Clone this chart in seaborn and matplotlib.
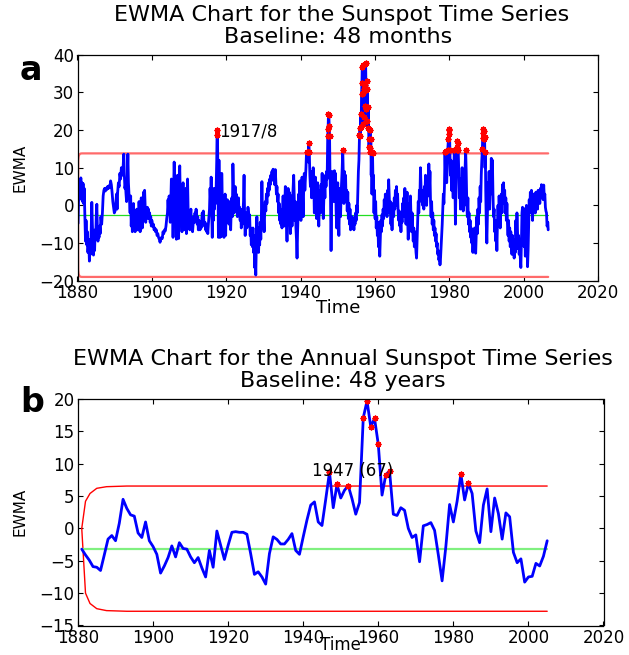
import numpy as np
import pandas as pd
import matplotlib
matplotlib.use("Agg")
import matplotlib.pyplot as plt
import seaborn as sns

# ---------------- data: monthly EWMA (panel a) ----------------
monthly_points = [
(1880.15,-4.8),(1880.3,2.5),(1880.4,6.5),(1880.5,1.5),(1880.6,6.8),(1880.75,4.0),(1880.9,7.3),(1881.05,3.5),
(1881.2,6.0),(1881.35,1.0),(1881.5,5.8),(1881.65,0.5),(1881.8,4.5),(1882.0,-3.5),(1882.15,-9.5),(1882.3,-4.0),
(1882.5,-10.5),(1882.65,-7.0),(1882.8,-12.5),(1883.0,-9.0),(1883.2,-14.8),(1883.35,-11.0),(1883.5,-13.0),
(1883.7,-6.0),(1883.85,0.8),(1884.0,-5.0),(1884.15,-9.5),(1884.3,-13.2),(1884.45,-9.0),(1884.6,-12.0),
(1884.75,-6.5),(1884.9,-8.5),(1885.05,-2.5),(1885.2,0.3),(1885.35,-6.0),(1885.5,-9.5),(1885.65,-7.5),
(1885.8,-8.5),(1885.95,-5.5),(1886.1,-7.5),(1886.3,-3.0),(1886.5,-5.0),(1886.7,-2.0),(1886.9,2.5),(1887.1,4.0),
(1887.3,4.5),(1887.5,3.8),(1887.7,4.6),(1887.9,4.2),(1888.1,5.0),(1888.3,4.5),(1888.5,5.2),(1888.7,4.7),
(1888.9,6.5),(1889.1,5.5),(1889.3,3.5),(1889.5,1.0),(1889.7,-0.5),(1889.9,-2.0),(1890.1,-1.5),(1890.3,0.5),
(1890.5,3.0),(1890.65,-1.0),(1890.8,3.5),(1891.0,6.0),(1891.2,5.0),(1891.4,8.5),(1891.6,7.0),(1891.8,10.0),
(1892.0,8.0),(1892.2,9.0),(1892.45,13.6),(1892.6,8.0),(1892.75,4.5),(1892.9,5.5),(1893.05,3.0),(1893.2,1.0),
(1893.35,6.0),(1893.55,13.6),(1893.7,6.0),(1893.85,3.0),(1894.0,1.0),(1894.15,-2.0),(1894.3,2.5),(1894.45,-5.5),
(1894.6,-1.0),(1894.75,-7.0),(1894.9,-3.0),(1895.05,0.5),(1895.2,-6.0),(1895.35,-2.5),(1895.5,-7.0),
(1895.65,-2.0),(1895.8,-4.5),(1895.95,-1.0),(1896.1,-6.5),(1896.25,-2.5),(1896.4,-6.5),(1896.55,1.0),
(1896.7,-4.0),(1896.85,-7.0),(1897.0,-3.0),(1897.15,2.0),(1897.3,-3.5),(1897.45,-6.0),(1897.6,-1.0),
(1897.75,3.5),(1897.9,-1.5),(1898.05,4.0),(1898.2,-0.5),(1898.35,-4.5),(1898.5,-1.0),(1898.65,-3.5),
(1898.8,-0.5),(1898.95,-2.5),(1899.1,-1.0),(1899.25,-3.5),(1899.4,-2.0),(1899.55,-4.5),(1899.7,-3.0),
(1899.85,-5.5),(1900.0,-4.0),(1900.2,-5.5),(1900.4,-5.0),(1900.6,-6.5),(1900.8,-6.0),(1901.0,-7.0),
(1901.2,-6.5),(1901.4,-8.0),(1901.6,-7.5),(1901.8,-8.5),(1902.0,-9.0),(1902.2,-9.8),(1902.4,-9.0),
(1902.6,-8.5),(1902.8,-8.8),(1903.0,-7.0),(1903.2,-7.5),(1903.4,-6.5),(1903.6,-6.8),(1903.8,-5.5),
(1904.0,-3.5),(1904.2,-2.0),(1904.35,1.5),(1904.5,-1.5),(1904.65,2.5),(1904.8,0.0),(1904.95,-4.5),
(1905.1,1.0),(1905.25,7.0),(1905.4,-2.0),(1905.55,6.5),(1905.7,-8.5),(1905.85,4.0),(1906.0,11.5),
(1906.15,5.0),(1906.3,-1.0),(1906.45,7.5),(1906.6,-9.0),(1906.75,0.5),(1906.9,8.0),(1907.05,-3.0),
(1907.2,-8.8),(1907.35,5.0),(1907.5,10.5),(1907.65,2.0),(1907.8,-4.0),(1907.95,1.0),(1908.1,-7.0),
(1908.25,3.0),(1908.4,6.0),(1908.55,-2.0),(1908.7,-6.5),(1908.85,0.5),(1909.0,-3.0),(1909.15,4.5),
(1909.3,-7.5),(1909.45,2.0),(1909.6,7.0),(1909.75,-1.0),(1909.9,-5.0),(1910.05,-2.0),(1910.2,-6.5),
(1910.35,-3.0),(1910.5,-1.0),(1910.65,-5.5),(1910.8,-4.0),(1910.95,-7.0),(1911.1,-5.0),(1911.3,-3.0),
(1911.45,-4.5),(1911.6,-2.0),(1911.75,-4.0),(1911.9,-1.0),(1912.05,-3.5),(1912.2,-5.0),(1912.35,-3.0),
(1912.5,-6.5),(1912.65,-4.0),(1912.8,-5.5),(1912.95,-6.5),(1913.1,-4.5),(1913.25,-6.0),(1913.4,-4.0),
(1913.55,-2.0),(1913.7,-3.5),(1913.85,-1.5),(1914.0,-4.0),(1914.15,-5.5),(1914.3,-4.5),(1914.45,-6.5),
(1914.6,-5.0),(1914.75,-7.0),(1914.9,-6.0),(1915.05,-7.5),(1915.2,-5.0),(1915.35,-3.0),(1915.5,-1.0),
(1915.65,4.5),(1915.8,1.0),(1915.95,7.5),(1916.1,-2.0),(1916.25,-8.5),(1916.4,2.0),(1916.55,-4.0),
(1916.7,4.5),(1916.85,-1.0),(1917.0,3.5),(1917.15,0.5),(1917.3,5.0),(1917.45,12.0),(1917.55,20.0),
(1917.65,18.7),(1917.75,10.0),(1917.9,-8.5),(1918.05,12.0),(1918.2,-1.0),(1918.35,-8.5),(1918.5,3.5),
(1918.65,-8.3),(1918.8,8.5),(1918.95,1.0),(1919.1,-5.5),(1919.25,2.0),(1919.4,-8.5),(1919.55,-1.5),
(1919.7,3.0),(1919.85,-8.0),(1920.0,0.5),(1920.15,-4.0),(1920.3,1.5),(1920.45,-3.5),(1920.6,-1.0),
(1920.75,-5.0),(1920.9,1.0),(1921.05,-4.0),(1921.2,-6.5),(1921.35,-1.0),(1921.5,2.0),(1921.65,-3.0),
(1921.8,11.0),(1921.95,4.0),(1922.1,-2.0),(1922.25,1.5),(1922.4,5.0),(1922.55,-0.5),(1922.7,3.0),
(1922.85,0.0),(1923.0,-3.0),(1923.15,-0.5),(1923.3,2.0),(1923.45,-2.5),(1923.6,-0.5),(1923.75,-4.0),
(1923.9,-1.0),(1924.05,-6.0),(1924.2,-3.0),(1924.35,-5.0),(1924.5,-2.0),(1924.65,1.0),(1924.8,8.0),
(1924.95,-3.0),(1925.1,-8.0),(1925.25,-4.5),(1925.4,-2.0),(1925.55,-6.0),(1925.7,-4.5),(1925.85,-0.5),
(1926.0,-2.0),(1926.15,-5.0),(1926.3,-2.5),(1926.45,-8.0),(1926.6,-6.0),(1926.75,-10.5),(1926.9,-7.0),
(1927.05,-11.0),(1927.2,-6.0),(1927.35,-12.5),(1927.5,-8.0),(1927.65,-16.5),(1927.8,-12.0),(1927.95,-18.5),
(1928.1,-10.5),(1928.25,-3.0),(1928.4,-12.0),(1928.55,-6.0),(1928.7,-12.5),(1928.85,-8.0),(1929.0,-10.5),
(1929.15,-4.5),(1929.3,-9.0),(1929.45,-3.0),(1929.6,6.3),(1929.75,-2.0),(1929.9,-6.0),(1930.05,-3.5),
(1930.2,-7.0),(1930.35,-2.0),(1930.5,1.0),(1930.65,-1.5),(1930.8,3.0),(1930.95,0.5),(1931.1,4.5),
(1931.25,2.5),(1931.4,6.0),(1931.55,4.0),(1931.7,7.0),(1931.85,5.5),(1932.0,8.0),(1932.15,6.5),
(1932.3,9.0),(1932.45,7.5),(1932.6,9.6),(1932.75,7.0),(1932.9,8.0),(1933.05,5.5),(1933.2,9.5),(1933.35,6.0),
(1933.5,3.0),(1933.65,5.0),(1933.8,1.0),(1933.95,3.0),(1934.1,-2.0),(1934.25,0.5),(1934.4,-4.0),
(1934.55,-1.0),(1934.7,-5.0),(1934.85,-2.5),(1935.0,-6.0),(1935.15,-1.0),(1935.3,2.5),(1935.45,-2.0),
(1935.6,-5.5),(1935.75,0.0),(1935.9,5.0),(1936.05,1.0),(1936.2,-4.0),(1936.35,-9.5),(1936.5,-3.0),
(1936.65,4.5),(1936.8,-1.0),(1936.95,3.5),(1937.1,-3.0),(1937.25,-7.5),(1937.4,-2.0),(1937.55,2.5),
(1937.7,-5.5),(1937.85,1.5),(1938.0,5.0),(1938.15,8.0),(1938.3,2.0),(1938.45,-4.0),(1938.6,1.0),
(1938.75,-6.0),(1938.9,-9.0),(1939.05,-14.0),(1939.2,-7.0),(1939.35,-2.0),(1939.5,3.0),(1939.65,-3.5),
(1939.8,6.5),(1939.95,0.5),(1940.1,-4.0),(1940.25,3.5),(1940.4,7.5),(1940.55,2.0),(1940.7,-3.0),
(1940.85,5.0),(1941.0,8.5),(1941.15,4.0),(1941.3,7.0),(1941.45,10.0),(1941.6,14.3),(1941.75,12.0),
(1941.9,14.2),(1942.05,11.5),(1942.2,16.5),(1942.35,14.3),(1942.5,8.0),(1942.65,5.0),(1942.8,9.0),
(1942.95,2.0),(1943.1,7.0),(1943.25,4.0),(1943.4,10.0),(1943.55,6.0),(1943.7,-2.0),(1943.85,3.0),
(1944.0,7.5),(1944.15,1.0),(1944.3,-3.5),(1944.45,2.0),(1944.6,6.0),(1944.75,-1.5),(1944.9,-5.5),
(1945.05,0.0),(1945.2,4.0),(1945.35,-2.0),(1945.5,5.5),(1945.65,2.0),(1945.8,8.5),(1945.95,3.0),
(1946.1,-3.5),(1946.25,1.0),(1946.4,6.0),(1946.55,2.0),(1946.7,8.0),(1946.85,5.0),(1947.0,9.0),
(1947.15,7.0),(1947.3,18.5),(1947.4,20.3),(1947.5,24.2),(1947.6,24.0),(1947.7,21.2),(1947.8,18.5),
(1947.9,9.0),(1948.05,2.0),(1948.2,-12.0),(1948.35,0.0),(1948.5,9.0),(1948.65,3.0),(1948.8,8.5),
(1948.95,1.0),(1949.1,9.2),(1949.25,5.0),(1949.4,8.5),(1949.55,-1.0),(1949.7,-6.0),(1949.85,1.0),
(1950.0,6.0),(1950.15,-2.0),(1950.3,-8.0),(1950.45,0.0),(1950.6,4.5),(1950.75,-3.0),(1950.9,3.0),
(1951.05,6.5),(1951.2,10.0),(1951.35,14.8),(1951.5,8.0),(1951.65,0.5),(1951.8,9.0),(1951.95,3.0),
(1952.1,8.0),(1952.25,1.0),(1952.4,4.0),(1952.55,-1.5),(1952.7,3.5),(1952.85,-3.5),(1953.0,0.5),
(1953.15,-5.0),(1953.3,-1.0),(1953.45,-6.5),(1953.6,-4.0),(1953.75,-5.5),(1953.9,-3.0),(1954.05,-6.0),
(1954.2,-4.5),(1954.35,-6.5),(1954.5,-3.5),(1954.65,-5.0),(1954.8,-2.0),(1954.95,-4.0),(1955.1,0.0),
(1955.25,-2.0),(1955.4,3.5),(1955.55,9.0),(1955.7,12.0),(1955.85,18.7),(1956.0,20.5),(1956.1,18.5),
(1956.2,24.3),(1956.3,20.8),(1956.4,29.6),(1956.5,32.4),(1956.6,36.8),(1956.7,29.8),(1956.8,21.5),
(1956.9,37.2),(1957.0,31.0),(1957.1,23.5),(1957.2,37.5),(1957.3,32.0),(1957.4,26.5),(1957.5,37.8),
(1957.6,30.5),(1957.7,25.5),(1957.8,33.0),(1957.9,22.5),(1958.0,31.0),(1958.1,20.5),(1958.2,26.0),
(1958.3,20.3),(1958.4,15.5),(1958.5,17.5),(1958.6,15.2),(1958.7,20.0),(1958.8,14.2),(1958.9,17.5),
(1959.0,8.0),(1959.1,14.2),(1959.2,3.0),(1959.35,14.0),(1959.5,5.0),(1959.6,8.0),(1959.75,-2.0),
(1959.9,4.0),(1960.05,-3.5),(1960.2,1.0),(1960.35,-6.0),(1960.5,-3.0),(1960.65,-8.0),(1960.8,-4.5),
(1960.95,-11.0),(1961.1,-7.0),(1961.3,-13.5),(1961.45,-9.0),(1961.6,-4.0),(1961.75,-7.0),(1961.9,-2.5),
(1962.05,-5.5),(1962.2,-1.0),(1962.35,-3.5),(1962.5,1.5),(1962.65,-2.0),(1962.8,3.0),(1962.95,-1.0),
(1963.1,2.0),(1963.25,-3.0),(1963.4,4.0),(1963.55,0.5),(1963.7,6.8),(1963.85,2.0),(1964.0,-2.0),
(1964.15,1.0),(1964.3,-5.0),(1964.45,-1.5),(1964.6,-6.5),(1964.75,-2.0),(1964.9,0.5),(1965.05,-3.0),
(1965.2,2.0),(1965.35,-1.0),(1965.5,4.0),(1965.65,0.0),(1965.8,5.0),(1965.95,1.5),(1966.1,3.0),
(1966.25,-2.0),(1966.4,-4.0),(1966.55,-1.5),(1966.7,-5.5),(1966.85,-3.0),(1967.0,-7.0),(1967.15,-2.0),
(1967.3,-4.5),(1967.45,0.5),(1967.6,-3.0),(1967.75,2.0),(1967.9,-2.0),(1968.05,4.5),(1968.2,0.0),
(1968.35,-5.0),(1968.5,-1.0),(1968.65,3.5),(1968.8,-3.5),(1968.95,-9.0),(1969.1,-4.0),(1969.25,0.5),
(1969.4,-6.0),(1969.55,2.5),(1969.7,-3.0),(1969.85,-7.0),(1970.0,-2.0),(1970.15,-6.0),(1970.3,-9.5),
(1970.45,-6.0),(1970.6,-11.0),(1970.75,-7.0),(1970.9,-10.0),(1971.05,-12.5),(1971.2,-14.0),(1971.35,-9.0),
(1971.5,-4.0),(1971.65,1.0),(1971.8,-2.0),(1971.95,4.0),(1972.1,2.0),(1972.25,10.0),(1972.4,5.0),
(1972.55,1.0),(1972.7,4.0),(1972.85,0.0),(1973.0,3.5),(1973.15,-1.0),(1973.3,5.0),(1973.45,2.0),
(1973.6,8.0),(1973.75,3.0),(1973.9,0.0),(1974.05,5.0),(1974.2,7.0),(1974.35,2.5),(1974.5,11.0),
(1974.65,4.0),(1974.8,9.0),(1974.95,1.0),(1975.1,-3.0),(1975.25,1.0),(1975.4,-5.0),(1975.55,-2.0),
(1975.7,-6.5),(1975.85,-4.0),(1976.0,-8.0),(1976.15,-6.0),(1976.3,-9.5),(1976.45,-7.5),(1976.6,-11.0),
(1976.75,-10.0),(1976.9,-13.0),(1977.05,-12.0),(1977.2,-14.5),(1977.35,-13.5),(1977.5,-15.8),
(1977.65,-14.0),(1977.8,-11.0),(1977.95,-8.0),(1978.1,-5.0),(1978.25,-1.0),(1978.4,3.0),(1978.55,0.5),
(1978.7,5.0),(1978.85,14.3),(1979.0,8.0),(1979.15,14.5),(1979.3,6.0),(1979.45,10.0),(1979.6,14.8),
(1979.75,17.5),(1979.85,20.0),(1979.95,19.0),(1980.05,20.2),(1980.15,14.8),(1980.3,8.0),(1980.45,12.0),
(1980.6,4.0),(1980.75,10.5),(1980.9,6.0),(1981.05,2.0),(1981.2,9.0),(1981.35,14.6),(1981.5,7.0),
(1981.65,-5.0),(1981.8,5.0),(1981.95,14.6),(1982.1,15.5),(1982.2,17.0),(1982.3,16.5),(1982.4,14.8),
(1982.55,9.0),(1982.7,2.0),(1982.85,6.0),(1983.0,-1.0),(1983.15,7.0),(1983.3,3.0),(1983.45,10.0),
(1983.6,2.5),(1983.75,-1.5),(1983.9,5.0),(1984.05,0.0),(1984.2,8.0),(1984.4,14.8),(1984.55,9.0),
(1984.7,1.0),(1984.85,-3.0),(1985.0,2.0),(1985.15,-5.0),(1985.3,-2.0),(1985.45,-7.0),(1985.6,-4.0),
(1985.75,-8.5),(1985.9,-6.0),(1986.05,-10.0),(1986.2,-8.0),(1986.35,-12.5),(1986.5,-9.0),(1986.65,-11.0),
(1986.8,-6.0),(1986.95,-10.5),(1987.1,-12.7),(1987.25,-8.0),(1987.4,-3.0),(1987.55,-7.5),(1987.7,-1.0),
(1987.85,-5.0),(1988.0,2.0),(1988.15,-2.0),(1988.3,5.0),(1988.45,1.0),(1988.6,8.0),(1988.75,12.0),
(1988.9,15.0),(1989.0,19.2),(1989.1,20.2),(1989.2,18.0),(1989.3,19.8),(1989.4,17.5),(1989.5,18.2),
(1989.6,10.0),(1989.7,14.2),(1989.8,4.0),(1989.95,-5.0),(1990.1,-10.0),(1990.25,-3.0),(1990.4,6.0),
(1990.55,1.0),(1990.7,9.0),(1990.85,-1.0),(1991.0,5.0),(1991.15,3.0),(1991.3,12.5),(1991.45,6.0),
(1991.6,12.0),(1991.75,3.0),(1991.9,-3.0),(1992.05,-1.0),(1992.2,-7.0),(1992.35,-4.0),(1992.5,-9.5),
(1992.65,-6.0),(1992.8,-12.0),(1992.95,-5.0),(1993.1,0.0),(1993.25,-4.0),(1993.4,2.5),(1993.55,-2.0),
(1993.7,-6.0),(1993.85,-1.0),(1994.0,3.0),(1994.15,-2.0),(1994.3,5.5),(1994.45,1.0),(1994.6,6.0),
(1994.75,0.5),(1994.9,4.0),(1995.05,-2.0),(1995.2,2.0),(1995.35,-4.0),(1995.5,0.5),(1995.65,-5.0),
(1995.8,-8.0),(1995.95,-4.0),(1996.1,-9.5),(1996.25,-6.0),(1996.4,-11.0),(1996.55,-7.0),(1996.7,-10.0),
(1996.85,-13.0),(1997.0,-8.0),(1997.15,-12.0),(1997.3,-9.0),(1997.45,-14.0),(1997.6,-10.0),
(1997.75,-12.5),(1997.9,-4.0),(1998.05,-9.0),(1998.2,-2.0),(1998.35,-7.0),(1998.5,-11.5),(1998.65,-8.0),
(1998.8,-13.0),(1998.95,-10.0),(1999.1,-14.0),(1999.25,-16.5),(1999.4,-10.0),(1999.55,-2.0),
(1999.7,-0.5),(1999.85,-4.0),(2000.0,-0.8),(2000.15,-11.0),(2000.3,-6.0),(2000.45,-13.5),(2000.6,-3.0),
(2000.75,0.0),(2000.9,-8.0),(2001.05,-16.3),(2001.2,-12.0),(2001.35,-5.0),(2001.5,1.5),(2001.65,-2.0),
(2001.8,3.5),(2001.95,-1.0),(2002.1,4.0),(2002.25,2.0),(2002.4,-4.0),(2002.55,1.0),(2002.7,3.0),
(2002.85,-1.5),(2003.0,2.0),(2003.15,-2.0),(2003.3,3.5),(2003.45,0.0),(2003.6,2.5),(2003.75,-1.0),
(2003.9,4.0),(2004.05,1.0),(2004.2,3.0),(2004.35,0.5),(2004.5,4.5),(2004.65,2.0),(2004.8,5.5),
(2004.95,3.0),(2005.1,5.0),(2005.25,1.5),(2005.4,5.4),(2005.55,2.0),(2005.7,3.0),(2005.85,-0.5),
(2006.0,-1.5),(2006.15,-2.0),(2006.3,-5.5),(2006.5,-4.5),(2006.6,-6.5),
]
month_time = [p[0] for p in monthly_points]
month_ewma = [p[1] for p in monthly_points]

# control limits, monthly chart
month_center = -2.6
month_limit_time = [1880.15, 1880.2, 1880.3, 1880.5, 1880.8, 1881.2, 2006.6]
month_ucl = [-2.6, 12.0, 13.0, 13.5, 13.75, 13.8, 13.8]
month_lcl = [-2.6, -17.2, -18.2, -18.7, -18.95, -19.0, -19.0]

# ---------------- data: annual EWMA (panel b) ----------------
annual_year = list(range(1881, 2006))
annual_ewma = [
    -3.2, -4.1, -4.9, -5.9, -6.0, -6.5, -4.1, -1.65, -1.1, -1.9,   # 1881-1890
    0.8, 4.5, 3.1, 2.1, 1.9, -0.7, -1.4, 1.0, -1.9, -2.8,          # 1891-1900
    -4.0, -6.9, -5.8, -4.5, -2.7, -4.4, -2.2, -3.1, -3.2, -4.4,    # 1901-1910
    -5.3, -4.5, -6.1, -7.5, -3.4, -6.0, -0.4, -2.6, -4.8, -2.6,    # 1911-1920
    -0.6, -0.5, -0.6, -0.6, -0.9, -3.9, -7.1, -6.7, -7.5, -8.6,    # 1921-1930
    -3.9, -1.3, -1.7, -2.4, -2.4, -1.7, -0.8, -3.4, -4.0, -1.3,    # 1931-1940
    1.3, 3.6, 4.1, 1.0, 0.45, 4.5, 8.7, 3.2, 6.8, 4.7,             # 1941-1950
    5.9, 6.6, 4.6, 2.2, 4.0, 17.1, 19.7, 15.7, 17.0, 13.0,         # 1951-1960
    5.15, 8.3, 8.9, 2.2, 2.0, 3.2, 2.8, 0.0, -1.4, -1.0,           # 1961-1970
    -5.15, 0.4, 0.6, 0.9, -0.3, -4.1, -8.1, -2.8, 3.7, 1.0,        # 1971-1980
    4.2, 8.4, 4.4, 6.95, 5.4, -0.4, -2.2, 3.6, 6.1, -0.5,          # 1981-1990
    4.7, 2.3, -1.65, 2.4, 1.8, -3.7, -5.3, -4.7, -8.3, -7.5,       # 1991-2000
    -7.4, -5.4, -5.8, -4.3, -1.9,                                  # 2001-2005
]
annual_center = -3.14
annual_limit_time = [1881.0, 1882.0, 1883.2, 1885.0, 1887.6, 1893.0, 2005.0]
annual_ucl = [0.0, 4.2, 5.4, 6.2, 6.45, 6.55, 6.55]
annual_lcl = [0.0, -10.0, -11.6, -12.4, -12.7, -12.8, -12.8]

# ---------------- styling ----------------
sns.set_theme(style="ticks")
plt.rcParams["font.family"] = ["DejaVu Sans"]
plt.rcParams.update({
    "xtick.direction": "in", "ytick.direction": "in",
    "xtick.top": True, "ytick.right": True,
    "xtick.major.size": 3.6, "ytick.major.size": 3.6,
    "xtick.major.width": 0.8, "ytick.major.width": 0.8,
    "axes.linewidth": 0.9, "axes.edgecolor": "black",
    "xtick.color": "black", "ytick.color": "black",
    "axes.labelcolor": "black", "text.color": "black",
})

W, H = 629, 655
fig = plt.figure(figsize=(W / 100, H / 100), dpi=100)
ax1 = fig.add_axes([77.5 / W, 1 - 280.7 / H, 520.5 / W, 226 / H])
ax2 = fig.add_axes([78 / W, 1 - 625.5 / H, 525.5 / W, 226.5 / H])

RED_A = "#ff6a6a"
GREEN_A = "#22dd22"
STAR = (8, 2, 0)

# ---- panel a ----
dfa = pd.DataFrame({"time": month_time, "ewma": month_ewma})
sns.lineplot(x=month_limit_time, y=month_ucl, ax=ax1, color=RED_A, lw=1.6, sort=False, estimator=None)
sns.lineplot(x=month_limit_time, y=month_lcl, ax=ax1, color=RED_A, lw=1.6, sort=False, estimator=None)
sns.lineplot(x=[month_limit_time[0], month_limit_time[-1]], y=[month_center, month_center], ax=ax1,
             color=GREEN_A, lw=0.9, sort=False, estimator=None)
sns.lineplot(data=dfa, x="time", y="ewma", ax=ax1, color="#0000ff", lw=2.0, sort=False, estimator=None)
ucl_a = np.interp(dfa["time"], month_limit_time, month_ucl)
out_a = dfa[dfa["ewma"] > ucl_a]
ax1.plot(out_a["time"], out_a["ewma"], ls="none", marker=STAR, ms=4.2, mew=1.0, color="red")
ax1.text(1918.0, 19.7, "1917/8", ha="left", va="center", fontsize=12)

# ---- panel b ----
dfb = pd.DataFrame({"year": annual_year, "ewma": annual_ewma})
sns.lineplot(x=annual_limit_time, y=annual_ucl, ax=ax2, color="red", lw=1.0, sort=False, estimator=None)
sns.lineplot(x=annual_limit_time, y=annual_lcl, ax=ax2, color="red", lw=1.0, sort=False, estimator=None)
sns.lineplot(x=[annual_year[0], annual_year[-1]], y=[annual_center, annual_center], ax=ax2,
             color="#80f080", lw=1.6, sort=False, estimator=None)
sns.lineplot(data=dfb, x="year", y="ewma", ax=ax2, color="#0000ff", lw=2.0, sort=False, estimator=None)
ucl_b = np.interp(dfb["year"], annual_limit_time, annual_ucl)
out_b = dfb[dfb["ewma"] > ucl_b]
ax2.plot(out_b["year"], out_b["ewma"], ls="none", marker=STAR, ms=4.2, mew=1.0, color="red")
ax2.text(1942.3, 8.86, "1947 (67)", ha="left", va="center", fontsize=12)

# ---- axes cosmetics ----
for ax, ylim, yt in [(ax1, (-20, 40), range(-20, 41, 10)), (ax2, (-15, 20), range(-15, 21, 5))]:
    ax.set_xlim(1880, 2020)
    ax.set_ylim(*ylim)
    ax.set_xticks(range(1880, 2021, 20))
    ax.set_yticks(list(yt))
    ax.tick_params(axis="both", labelsize=12, pad=2.5)
    for s in ax.spines.values():
        s.set_visible(True)
        s.set_color("black")
    ax.set_ylabel("EWMA", fontsize=11)
    ax.yaxis.set_label_coords(-0.097, 0.5)

ax1.set_xlabel("Time", fontsize=13)
ax1.xaxis.set_label_coords(0.5, -0.081)
ax2.set_xlabel("Time", fontsize=12)
ax2.xaxis.set_label_coords(0.5, -0.048)

# ---- titles and panel letters ----
fig.text(342 / W, 1 - 21 / H, "EWMA Chart for the Sunspot Time Series", ha="center", va="baseline", fontsize=16)
fig.text(338 / W, 1 - 42.7 / H, "Baseline: 48 months", ha="center", va="baseline", fontsize=16)
fig.text(343 / W, 1 - 365 / H, "EWMA Chart for the Annual Sunspot Time Series", ha="center", va="baseline", fontsize=16)
fig.text(343 / W, 1 - 386.7 / H, "Baseline: 48 years", ha="center", va="baseline", fontsize=16)
fig.text(20 / W, 1 - 80 / H, "a", ha="left", va="baseline", fontsize=24, fontweight="bold")
fig.text(20 / W, 1 - 411.7 / H, "b", ha="left", va="baseline", fontsize=24, fontweight="bold")

fig.savefig("out.png", dpi=100)
